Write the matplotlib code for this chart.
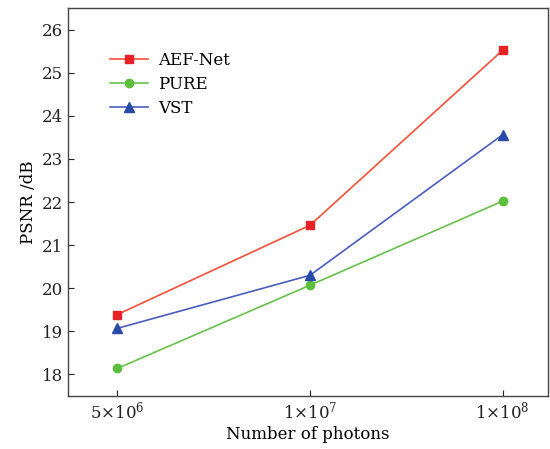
import numpy as np
import matplotlib.pyplot as plt

plt.rcParams['font.family'] = 'DejaVu Serif'
plt.rcParams['mathtext.fontset'] = 'dejavuserif'

# data
photons = [r'$5{\times}10^6$', r'$1{\times}10^7$', r'$1{\times}10^8$']
aef_net = [19.39, 21.46, 25.52]
pure = [18.14, 20.07, 22.02]
vst = [19.07, 20.30, 23.56]

x = np.arange(len(photons))

fig = plt.figure(figsize=(5.5, 4.49), dpi=100)
ax = fig.add_axes([0.124, 0.118, 0.872, 0.864])

ax.plot(x, aef_net, color='#f5503a', marker='s', markersize=6, markerfacecolor='#e82028',
        markeredgecolor='#e82028', linewidth=1.2, label='AEF-Net')
ax.plot(x, pure, color='#66c24a', marker='o', markersize=6, markerfacecolor='#5cbf3c',
        markeredgecolor='#5cbf3c', linewidth=1.2, label='PURE')
ax.plot(x, vst, color='#4a5cc0', marker='^', markersize=7, markerfacecolor='#2a4aa8',
        markeredgecolor='#2a4aa8', linewidth=1.2, label='VST')

ax.set_xlim(-0.255, 2.235)
ax.set_ylim(17.5, 26.5)
ax.set_xticks(x)
ax.set_xticklabels(photons)
ax.set_yticks(np.arange(18, 27, 1))
ax.tick_params(direction='in', labelsize=12, length=4, width=0.8, colors='#222222')
for s in ax.spines.values():
    s.set_color('#444444')
    s.set_linewidth(1.0)

ax.set_xlabel('Number of photons', fontsize=12, labelpad=2)
ax.set_ylabel('PSNR /dB', fontsize=12, labelpad=4)

ax.legend(loc='upper left', bbox_to_anchor=(0.055, 0.925), frameon=False, fontsize=12,
          handlelength=2.3, labelspacing=0.42, handletextpad=0.6)

fig.savefig('out.png', dpi=100)
